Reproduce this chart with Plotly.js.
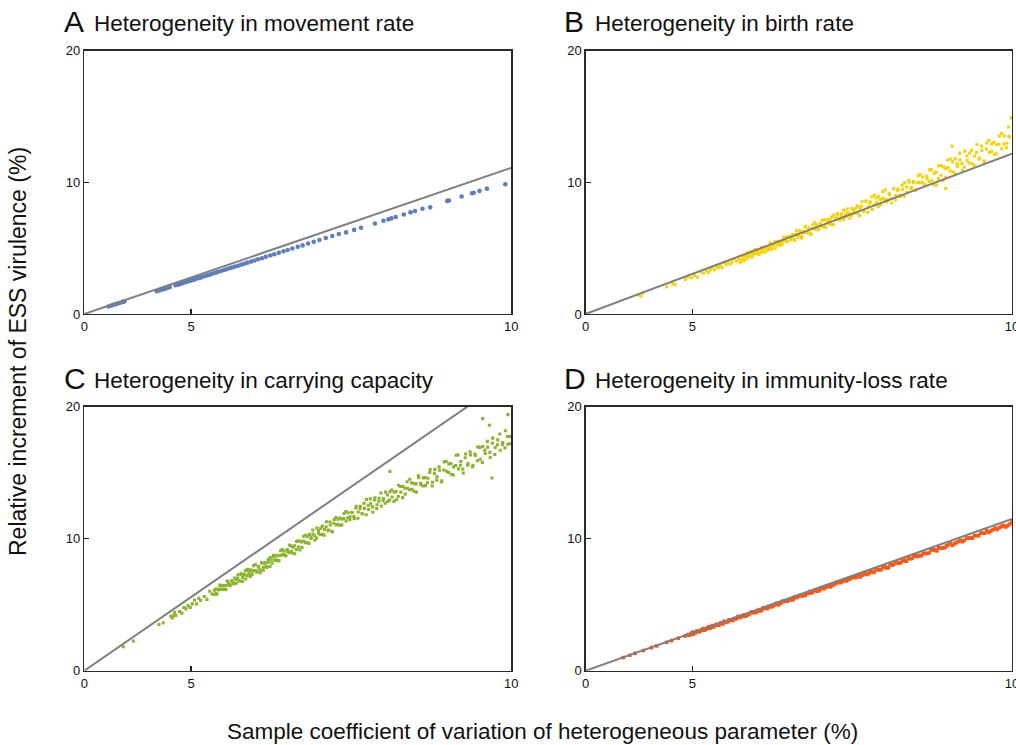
<!DOCTYPE html>
<html>
<head>
<meta charset="utf-8">
<script src="https://cdn.plot.ly/plotly-3.0.1.min.js"></script>
<style>html,body{margin:0;padding:0;background:#fff;}#chart{width:1016px;height:745px;}</style>
</head>
<body>
<div id="chart"></div>
<script>
// ---- Data (x = sample coefficient of variation, %, y = relative increment of ESS virulence, %) ----
const cvA = [2.37,2.48,2.6,2.72,2.8,2.9,3.0,3.07,4.12,4.18,4.22,4.28,4.33,4.38,4.42,4.47,
4.62,4.66,4.70,4.74,4.79,4.83,4.88,4.92,4.97,5.01,5.06,5.10,5.15,5.20,5.24,5.30,5.35,5.40,5.45,5.50,
5.55,5.60,5.66,5.72,5.77,5.83,5.88,5.94,6.00,6.06,6.12,6.18,6.25,6.31,6.38,6.45,6.52,6.60,6.67,6.75,
6.83,6.90,6.98,7.07,7.15,7.24,7.33,7.42,7.52,7.62,7.72,7.83,7.95,8.05,
8.25,8.37,8.44,8.48,8.54,8.65,8.74,8.80,8.90,9.00,9.22,9.24,9.40,9.53,9.55,9.62,9.71,9.93];
const incA = [0.57,0.63,0.69,0.75,0.80,0.86,0.92,0.96,1.73,1.78,1.82,1.87,1.91,1.96,1.99,2.04,
2.18,2.22,2.25,2.29,2.34,2.38,2.43,2.47,2.52,2.56,2.61,2.65,2.71,2.76,2.80,2.87,2.92,2.97,3.03,3.09,
3.14,3.20,3.27,3.34,3.40,3.47,3.53,3.60,3.67,3.75,3.82,3.90,3.98,4.06,4.15,4.24,4.34,4.44,4.54,4.65,
4.76,4.86,4.97,5.10,5.21,5.35,5.48,5.62,5.77,5.92,6.08,6.20,6.39,6.55,
6.87,7.08,7.19,7.26,7.37,7.56,7.72,7.82,8.00,8.10,8.59,8.62,8.92,9.17,9.21,9.35,9.52,9.86];

const cvB = [3.54,3.6,3.66,4.36,4.52,4.58,4.84,4.9,4.98,5.05,
5.12,5.2,5.26,5.32,5.36,5.41,5.45,5.5,5.54,5.58,
5.62,5.66,5.7,5.74,5.78,5.82,5.86,5.9,5.95,5.99,
6.02,6.05,6.08,6.12,6.15,6.18,6.22,6.25,6.28,6.32,
6.35,6.38,6.42,6.45,6.48,6.52,6.55,6.58,6.61,6.64,
6.67,6.7,6.73,6.76,6.79,6.82,6.85,6.88,6.91,6.94,
6.97,7.0,7.03,7.06,7.09,7.12,7.15,7.18,7.21,7.24,
7.27,7.3,7.33,7.36,7.39,7.42,7.45,7.48,7.51,7.54,
7.57,7.6,7.63,7.66,7.69,7.72,7.75,7.78,7.81,7.84,
7.87,7.9,7.93,7.96,7.99,8.02,8.05,8.08,8.11,8.14,
8.17,8.2,8.23,8.26,8.29,8.32,8.35,8.38,8.41,8.44,
8.47,8.5,8.53,8.56,8.59,8.62,8.65,8.68,8.71,8.74,
8.77,8.8,8.83,8.86,8.89,8.92,8.95,8.98,9.01,9.04,
9.07,9.1,9.13,9.16,9.19,9.22,9.25,9.28,9.31,9.34,
9.37,9.4,9.43,9.46,9.49,9.52,9.55,9.58,9.61,9.64,
9.67,9.7,9.73,9.76,9.79,9.82,9.85,9.88,9.91,9.94,
9.97,9.99,9.96,9.27,9.19];
const incB = [1.45,1.35,1.61,2.06,2.31,2.23,2.63,2.82,2.75,2.93,
2.80,3.21,3.10,3.30,3.15,3.36,3.53,3.36,3.62,3.52,
3.67,3.53,3.89,3.77,3.93,3.79,3.95,4.19,4.01,4.18,
3.90,4.43,4.20,4.45,4.19,4.47,4.72,4.41,4.77,4.60,
4.79,4.54,5.07,4.84,5.06,4.82,5.05,5.38,5.05,5.28,
4.99,5.53,5.31,5.55,5.30,5.59,5.84,5.53,5.90,5.73,
5.92,5.58,6.32,5.98,6.28,5.90,6.20,6.66,6.16,6.46,
6.04,6.78,6.44,6.78,6.40,6.78,7.12,6.66,7.18,6.90,
7.17,6.79,7.53,7.20,7.50,7.12,7.43,7.89,7.39,7.69,
7.28,8.02,7.68,8.03,7.65,8.06,8.55,7.83,8.56,8.15,
8.52,7.93,9.02,8.49,8.92,8.33,8.76,9.42,8.65,9.08,
8.43,9.52,9.00,9.50,8.91,9.47,9.97,9.27,10.01,9.60,
9.98,9.40,10.5,9.98,10.41,9.83,10.27,10.95,10.11,10.68,
9.80,11.25,10.54,11.18,10.39,11.12,11.77,10.81,11.78,11.23,
11.71,10.92,12.37,11.65,12.22,11.43,12.0,12.88,11.85,12.42,
11.54,12.99,12.28,12.92,12.13,12.86,13.51,12.55,13.52,12.97,
13.45,14.9,14.2,12.75,9.52];
const cvB2 = [6.035,6.065,6.095,6.125,6.155,6.185,6.215,6.245,6.275,6.305,
6.335,6.365,6.395,6.425,6.455,6.485,6.515,6.545,6.575,6.605,
6.635,6.665,6.695,6.725,6.755,6.785,6.815,6.845,6.875,6.905,
6.935,6.965,6.995,7.025,7.055,7.085,7.115,7.145,7.175,7.205,
7.235,7.265,7.295,7.325,7.355,7.385,7.415,7.445,7.475,7.505,
7.535,7.565,7.595,7.625,7.655,7.685,7.715,7.745,7.775,7.805,
7.835,7.865,7.895,7.925,7.955,7.985,8.015,8.045,8.075,8.105,
8.135,8.165,8.195,8.225,8.255,8.285,8.315,8.345,8.375,8.405,
8.435,8.465,8.495,8.525,8.555,8.585,8.615,8.645,8.675,8.705,
8.735,8.765,8.795,8.825,8.855,8.885,8.915,8.945,8.975,9.005,
9.035,9.065,9.095,9.125,9.155,9.185,9.215,9.245,9.275,9.305,
9.335,9.365,9.395,9.425,9.455,9.485,9.515,9.545,9.575,9.605,
9.635,9.665,9.695,9.725,9.755,9.785,9.815,9.845,9.875,9.905,
9.935,9.965];
const incB2 = [4.07,4.44,4.05,4.39,4.64,4.36,4.62,4.33,4.60,4.90,
4.64,4.57,4.88,4.70,5.07,4.69,5.05,4.90,5.28,4.90,
5.25,5.50,5.24,5.50,5.23,5.51,5.82,5.56,5.49,5.82,
5.65,6.03,5.65,6.05,5.81,6.33,5.77,6.25,6.59,6.19,
6.55,6.13,6.51,6.93,6.55,6.43,6.87,6.61,7.13,6.57,
7.07,6.84,7.36,6.80,7.29,7.63,7.23,7.59,7.18,7.56,
7.98,7.61,7.49,7.93,7.68,8.20,7.47,8.20,7.82,8.58,
7.72,8.42,8.91,8.29,8.81,8.16,8.70,9.31,8.72,8.52,
9.16,8.75,9.51,8.66,9.39,9.02,9.79,8.94,9.65,10.14,
9.53,10.06,9.42,9.98,10.59,10.01,9.82,10.47,10.07,10.97,
9.82,10.79,10.28,11.28,10.13,11.06,11.70,10.87,11.56,10.68,
11.41,12.22,11.43,11.15,12.00,11.45,12.45,11.30,12.27,11.75,
12.76,11.61,12.54,13.18,12.35,13.04,12.16,12.89,13.70,12.91,
12.63,13.48];

const cvC = [3.02,3.39,4.18,4.3,4.5,4.54,4.57,4.6,4.63,4.72,
4.78,4.83,4.88,4.93,4.98,5.03,5.08,5.13,5.18,5.22,
5.3,5.36,5.42,5.47,5.52,5.56,5.6,5.64,5.68,5.72,
5.76,5.8,5.84,5.88,5.92,5.96,6.0,6.03,6.06,6.09,
6.12,6.15,6.18,6.21,6.24,6.27,6.3,6.33,6.36,6.39,
6.42,6.45,6.48,6.51,6.54,6.57,6.6,6.63,6.66,6.69,
6.72,6.75,6.78,6.81,6.84,6.87,6.9,6.93,6.96,6.99,
7.02,7.05,7.08,7.11,7.14,7.17,7.2,7.23,7.26,7.29,
7.32,7.35,7.38,7.41,7.44,7.47,7.5,7.53,7.56,7.59,
7.62,7.65,7.68,7.71,7.74,7.77,7.8,7.83,7.86,7.89,
7.92,7.95,7.98,8.01,8.04,8.07,8.1,8.13,8.16,8.19,
8.22,8.25,8.28,8.31,8.34,8.37,8.4,8.43,8.46,8.49,
8.52,8.55,8.58,8.61,8.64,8.67,8.7,8.73,8.76,8.79,
8.82,8.85,8.88,8.91,8.94,8.97,9.0,9.03,9.06,9.09,
9.12,9.15,9.18,9.21,9.24,9.27,9.3,9.33,9.36,9.39,
9.42,9.45,9.48,9.51,9.54,9.57,9.6,9.63,9.66,9.69,
9.72,9.75,9.78,9.81,9.84,9.87,9.9,9.93,9.96,9.99,
9.66,9.96,9.77,8.46,9.74];
const incC = [1.82,2.25,3.5,3.62,4.13,3.99,4.16,4.42,4.19,4.48,
4.36,4.79,4.68,4.92,4.79,5.06,5.36,5.06,5.48,5.32,
5.62,5.40,6.02,5.81,6.09,5.85,6.11,6.49,6.16,6.42,
6.15,6.74,6.52,6.82,6.57,6.90,7.27,6.81,7.32,7.06,
7.32,6.95,7.69,7.35,7.65,7.28,7.58,8.04,7.55,7.85,
7.43,8.18,7.84,8.19,7.82,8.22,8.58,8.14,8.66,8.41,
8.69,8.33,9.09,8.77,9.08,8.72,9.04,9.52,9.04,9.35,
8.86,9.79,9.37,9.81,9.34,9.83,10.26,9.69,10.33,10.01,
10.35,9.88,10.81,10.40,10.78,10.32,10.7,11.28,10.66,11.04,
10.52,11.46,11.04,11.47,11.0,11.48,11.91,11.34,11.97,11.65,
11.98,11.52,12.45,12.02,12.45,11.87,12.30,12.98,12.21,12.65,
12.0,13.1,12.57,13.07,12.48,13.04,13.53,12.83,13.56,13.16,
13.53,12.95,14.05,13.53,13.96,13.38,13.82,14.5,13.74,14.17,
13.53,14.63,14.11,14.61,14.02,14.58,15.24,14.28,15.25,14.69,
15.18,14.38,15.82,15.11,15.67,14.88,15.44,16.32,15.29,15.85,
14.98,16.42,15.70,16.35,15.57,16.30,16.96,16.02,16.99,16.45,
16.94,16.16,17.62,16.91,17.49,16.70,17.28,18.18,17.15,17.73,
19.1,19.4,14.6,15.1,18.6];
const cvC2 = [5.515,5.545,5.575,5.605,5.635,5.665,5.695,5.725,5.755,5.785,
5.815,5.845,5.875,5.905,5.935,5.965,5.995,6.025,6.055,6.085,
6.115,6.145,6.175,6.205,6.235,6.265,6.295,6.325,6.355,6.385,
6.415,6.445,6.475,6.505,6.535,6.565,6.595,6.625,6.655,6.685,
6.715,6.745,6.775,6.805,6.835,6.865,6.895,6.925,6.955,6.985,
7.015,7.045,7.075,7.105,7.135,7.165,7.195,7.225,7.255,7.285,
7.315,7.345,7.375,7.405,7.435,7.465,7.495,7.525,7.555,7.585,
7.615,7.645,7.675,7.705,7.735,7.765,7.795,7.825,7.855,7.885,
7.915,7.945,7.975,8.005,8.035,8.065,8.095,8.125,8.155,8.185,
8.215,8.245,8.275,8.305,8.335,8.365,8.395,8.425,8.455,8.485,
8.515,8.545,8.575,8.605,8.635,8.665,8.695,8.725,8.755,8.785,
8.815,8.845,8.875,8.905,8.935,8.965,8.995,9.025,9.055,9.085,
9.115,9.145,9.175,9.205,9.235,9.265,9.295,9.325,9.355,9.385,
9.415,9.445,9.475,9.505,9.535,9.565,9.595,9.625,9.655,9.685,
9.715,9.745,9.775,9.805,9.835,9.865,9.895,9.925,9.955,9.985];
const incC2 = [5.78,6.19,5.79,6.17,6.44,6.16,6.45,6.15,6.45,6.79,
6.52,6.44,6.80,6.62,7.02,6.62,7.02,6.80,7.33,6.77,
7.25,7.59,7.20,7.56,7.14,7.53,7.95,7.57,7.46,7.90,
7.64,8.16,7.61,8.11,7.89,8.43,7.89,8.39,8.74,8.36,
8.74,8.34,8.74,9.17,8.81,8.71,9.17,8.93,9.46,8.92,
9.47,9.18,9.84,9.14,9.76,10.19,9.70,10.16,9.64,10.13,
10.66,10.20,10.05,10.61,10.30,10.95,10.27,10.90,10.60,11.26,
10.56,11.17,11.60,11.10,11.56,11.05,11.53,12.06,11.59,11.44,
12.00,11.68,12.33,11.55,12.29,11.91,12.68,11.82,12.53,13.02,
12.41,12.93,12.29,12.84,13.46,12.87,12.68,13.32,12.92,13.68,
12.83,13.57,13.20,13.96,13.11,13.82,14.32,13.71,14.23,13.59,
14.15,14.77,14.19,13.99,14.64,14.24,15.01,13.99,14.95,14.44,
15.44,14.29,15.21,15.85,15.02,15.70,14.83,15.55,16.35,15.56,
15.28,16.13,15.57,16.58,15.43,16.41,15.90,16.92,15.78,16.71,
17.37,16.54,17.24,16.38,17.11,17.93,17.14,16.88,17.74,17.19];

const cvD = [2.97,3.22,3.4,3.68,3.93,4.08,4.36,4.49,4.66,4.83,
4.9,4.95,5,5.05,5.1,5.15,5.2,5.25,5.3,5.35,
5.4,5.45,5.5,5.55,5.6,5.65,5.7,5.75,5.8,5.85,
5.9,5.95,6,6.05,6.1,6.15,6.2,6.25,6.3,6.35,
6.4,6.45,6.5,6.55,6.6,6.65,6.7,6.75,6.8,6.85,
6.9,6.95,7,7.05,7.1,7.15,7.2,7.25,7.3,7.35,
7.4,7.45,7.5,7.55,7.6,7.65,7.7,7.75,7.8,7.85,
7.9,7.95,8,8.05,8.1,8.15,8.2,8.25,8.3,8.35,
8.4,8.45,8.5,8.55,8.6,8.65,8.7,8.75,8.8,8.85,
8.9,8.95,9,9.05,9.1,9.15,9.2,9.25,9.3,9.35,
9.4,9.45,9.5,9.55,9.6,9.65,9.7,9.75,9.8,9.85,
9.9,9.95,10];
const incD = [1.00,1.17,1.31,1.53,1.75,1.88,2.15,2.28,2.46,2.64,
2.74,2.71,2.90,2.88,2.98,2.95,3.06,3.20,3.15,3.26,
3.22,3.42,3.40,3.52,3.49,3.62,3.74,3.70,3.86,3.86,
3.96,3.94,4.12,4.11,4.23,4.21,4.32,4.47,4.43,4.55,
4.53,4.74,4.73,4.86,4.84,4.98,5.11,5.09,5.25,5.26,
5.38,5.37,5.58,5.58,5.71,5.70,5.83,5.99,5.96,6.09,
6.08,6.30,6.30,6.45,6.44,6.59,6.73,6.72,6.89,6.92,
7.05,7.05,7.25,7.24,7.39,7.37,7.52,7.71,7.66,7.82,
7.79,8.05,8.05,8.21,8.20,8.38,8.54,8.51,8.72,8.74,
8.89,8.88,9.15,9.15,9.31,9.30,9.46,9.67,9.63,9.79,
9.78,10.05,10.06,10.24,10.23,10.42,10.60,10.58,10.80,10.83,
10.99,10.99,11.27];
const cvD2 = [4.925,4.975,5.025,5.075,5.125,5.175,5.225,5.275,5.325,5.375,
5.425,5.475,5.525,5.575,5.625,5.675,5.725,5.775,5.825,5.875,
5.925,5.975,6.025,6.075,6.125,6.175,6.225,6.275,6.325,6.375,
6.425,6.475,6.525,6.575,6.625,6.675,6.725,6.775,6.825,6.875,
6.925,6.975,7.025,7.075,7.125,7.175,7.225,7.275,7.325,7.375,
7.425,7.475,7.525,7.575,7.625,7.675,7.725,7.775,7.825,7.875,
7.925,7.975,8.025,8.075,8.125,8.175,8.225,8.275,8.325,8.375,
8.425,8.475,8.525,8.575,8.625,8.675,8.725,8.775,8.825,8.875,
8.925,8.975,9.025,9.075,9.125,9.175,9.225,9.275,9.325,9.375,
9.425,9.475,9.525,9.575,9.625,9.675,9.725,9.775,9.825,9.875,
9.925,9.975];
const incD2 = [2.68,2.82,2.76,2.90,3.01,2.98,3.10,3.06,3.18,3.32,
3.29,3.32,3.45,3.45,3.61,3.55,3.70,3.71,3.83,3.81,
3.96,4.08,4.03,4.16,4.13,4.26,4.41,4.39,4.42,4.57,
4.58,4.74,4.69,4.85,4.87,5.04,4.99,5.15,5.28,5.26,
5.40,5.38,5.53,5.68,5.67,5.71,5.87,5.89,6.06,6.02,
6.19,6.22,6.39,6.35,6.52,6.67,6.66,6.81,6.80,6.95,
7.11,7.11,7.10,7.29,7.30,7.50,7.44,7.64,7.66,7.87,
7.81,8.01,8.17,8.15,8.32,8.30,8.48,8.66,8.65,8.71,
8.90,8.92,9.14,9.08,9.29,9.32,9.54,9.49,9.70,9.87,
9.86,10.04,10.03,10.22,10.41,10.41,10.47,10.68,10.71,10.93,
10.89,11.11];

// reference lines (end points)
const refCV = [0, 10];
const refA = [0, 11.1];
const refB = [0, 12.17];
const refC = [0, 22.3];
const refD = [0, 11.5];

const xTicks = [0, 5, 10];
const yTicks = [0, 10, 20];
const panelLetters = ['A', 'B', 'C', 'D'];
const panelTitles = ['Heterogeneity in movement rate', 'Heterogeneity in birth rate',
                     'Heterogeneity in carrying capacity', 'Heterogeneity in immunity-loss rate'];
const yTitle = 'Relative increment of ESS virulence (%)';
const xTitle = 'Sample coefficient of variation of heterogeneous parameter (%)';

// ---- Build ----
const W = 1016, H = 745;
const fx = p => p / W, fy = p => 1 - p / H;
const sq = arr => arr.map(v => v * v);   // the x axis is drawn on a squared scale

const FONT = '"Liberation Sans", Arial, Helvetica, sans-serif';
const colors = ['#5b7fbf', '#f9d200', '#8ab52a', '#ff5412'];
const sets = [
  [cvA, incA, refA],
  [cvB.concat(cvB2), incB.concat(incB2), refB],
  [cvC.concat(cvC2), incC.concat(incC2), refC],
  [cvD.concat(cvD2), incD.concat(incD2), refD]
];
const msize = [4.6, 3.1, 3.1, 3.6];
const msym = ['circle', 'square', 'square', 'square'];

const traces = [];
sets.forEach((s, i) => {
  const ax = i === 0 ? '' : String(i + 1);
  traces.push({type: 'scatter', mode: 'markers', x: sq(s[0]), y: s[1], xaxis: 'x' + ax, yaxis: 'y' + ax,
    marker: {color: colors[i], size: msize[i], symbol: msym[i], line: {width: 0}}, hoverinfo: 'skip'});
  traces.push({type: 'scatter', mode: 'lines', x: sq(refCV), y: s[2], xaxis: 'x' + ax, yaxis: 'y' + ax,
    line: {color: '#7f7f7f', width: 2}, hoverinfo: 'skip'});
});

const boxes = [
  {x: [84.3, 511.3], y: [314, 50.7]},
  {x: [585.7, 1012], y: [314, 50.7]},
  {x: [84.3, 511.3], y: [670.7, 406.7]},
  {x: [585.7, 1012], y: [670.7, 406.7]}
];

const layout = {
  width: W, height: H, margin: {l: 0, r: 0, t: 0, b: 0},
  paper_bgcolor: '#fff', plot_bgcolor: '#fff', showlegend: false,
  font: {family: FONT, color: '#111'},
  annotations: []
};

boxes.forEach((b, i) => {
  const ax = i === 0 ? '' : String(i + 1);
  const common = {showgrid: false, zeroline: false, showline: true, mirror: true, linecolor: '#2a2a2a', linewidth: 1.4,
    ticks: 'inside', ticklen: 5, tickwidth: 1.2, tickcolor: '#222', tickfont: {family: FONT, size: 13, color: '#111'},
    fixedrange: true, ticklabeloverflow: 'allow'};
  layout['xaxis' + ax] = Object.assign({}, common, {domain: [fx(b.x[0]), fx(b.x[1])], range: [0, 100],
    tickmode: 'array', tickvals: sq(xTicks), ticktext: xTicks.map(String), anchor: 'y' + ax});
  layout['yaxis' + ax] = Object.assign({}, common, {domain: [fy(b.y[0]), fy(b.y[1])], range: [0, 20],
    tickmode: 'array', tickvals: yTicks, ticktext: yTicks.map(String), anchor: 'x' + ax});
});

const letterPos = [[62, 21.5], [562, 21.5], [62, 378], [562, 378]];
const titlePos = [[92, 23.5], [593, 23.5], [91.5, 380], [593, 380]];
panelLetters.forEach((L, i) => {
  layout.annotations.push({text: L, xref: 'paper', yref: 'paper', x: fx(letterPos[i][0]), y: fy(letterPos[i][1]),
    xanchor: 'left', yanchor: 'middle', showarrow: false, font: {family: FONT, size: 30, color: '#111'}});
  layout.annotations.push({text: panelTitles[i], xref: 'paper', yref: 'paper', x: fx(titlePos[i][0]), y: fy(titlePos[i][1]),
    xanchor: 'left', yanchor: 'middle', showarrow: false, font: {family: FONT, size: 22.5, color: '#111'}});
});
layout.annotations.push({text: yTitle, xref: 'paper', yref: 'paper', x: fx(18), y: fy(352), textangle: -90,
  xanchor: 'center', yanchor: 'middle', showarrow: false, font: {family: FONT, size: 23, color: '#111'}});
layout.annotations.push({text: xTitle, xref: 'paper', yref: 'paper', x: fx(542), y: fy(731),
  xanchor: 'center', yanchor: 'middle', showarrow: false, font: {family: FONT, size: 22.5, color: '#111'}});

Plotly.newPlot('chart', traces, layout, {staticPlot: true, displayModeBar: false});
</script>
</body>
</html>
